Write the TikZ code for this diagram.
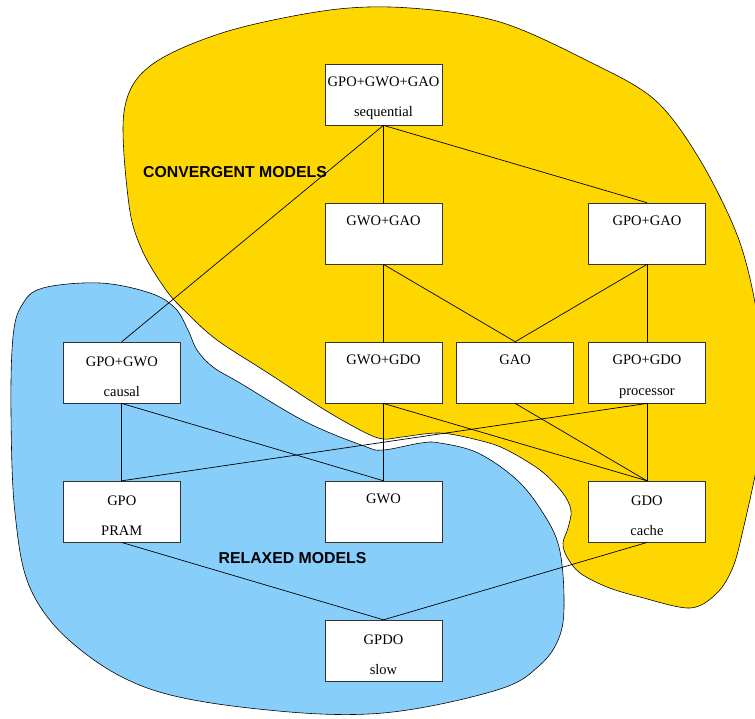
\documentclass[tikz,border=0pt]{standalone}
\usepackage{fontspec}
\setmainfont{Liberation Serif}
\newfontfamily\regionfont{Liberation Sans}
\usetikzlibrary{positioning}
\definecolor{Convergent}{HTML}{FFD700}
\definecolor{Relaxed}{HTML}{87CEFA}

\begin{document}
\begin{tikzpicture}[
  x=0.03cm, y=-0.03cm,
  node distance=2.32cm and 0.42cm,
  every node/.style={align=center},
  model/.style={draw=black!80, fill=white, line width=0.6pt, minimum width=3.51cm, minimum height=1.83cm, inner sep=0pt, font=\fontsize{12.4}{26}\selectfont},
  region/.style={draw=black, line width=0.5pt},
  regionlabel/.style={font=\regionfont\bfseries\fontsize{13.5}{16}\selectfont},
  link/.style={line width=0.6pt, black}
]
\clip (0,0) rectangle (755,718);

% Regions
\draw[region, fill=Convergent] plot[smooth cycle, tension=0.55] coordinates {
  (124,112) (150,66) (225,32) (330,10) (410,8) (500,22) (590,62)
  (655,100) (700,160) (739,240) (758,320) (765,400)
  (758,460) (743,530) (733,567) (717,593) (690,608)
  (640,597) (607,587) (580,573) (567,557) (563,543) (568,528) (571,510)
  (562,492) (540,470) (505,449) (478,440) (440,433) (402,437) (383,439)
  (364,432) (325,410) (268,373) (217,340) (187,313) (166,290) (142,250)
  (129,205)};
\draw[region, fill=Relaxed] plot[smooth cycle, tension=0.6] coordinates {
  (43,288) (100,283) (150,293) (175,308) (188,330) (197,350) (213,367)
  (240,383) (306,422) (364,446) (383,450) (421,443) (440,443) (478,453)
  (517,480) (543,513) (559,547) (564,597) (560,635) (540,665) (497,690)
  (383,713) (268,710) (153,690) (77,647) (31,590) (15,513) (11,413)
  (13,337) (22,305)};

\node[regionlabel] (convlabel) at (235,172) {CONVERGENT MODELS};
\node[regionlabel] (relaxlabel) at (292.5,558) {RELAXED MODELS};

% Top
\node[model] (seq) at (383.5,94.5) {\rule{0pt}{15pt}GPO+GWO+GAO\\sequential};

% Row 2
\node[model, below=of seq] (gwogao) {\rule{0pt}{15pt}GWO+GAO\\\phantom{g}};

% Row 3
\node[model, below=of gwogao] (gwogdo) {\rule{0pt}{15pt}GWO+GDO\\\phantom{g}};
\node[model, right=of gwogdo] (gao) {\rule{0pt}{15pt}GAO\\\phantom{g}};
\node[model, right=of gao] (gpogdo) {\rule{0pt}{15pt}GPO+GDO\\processor};
\node[model, left=4.32cm of gwogdo] (gpogwo) {\rule{0pt}{15pt}GPO+GWO\\causal};
\node[model, above=of gpogdo] (gpogao) {\rule{0pt}{15pt}GPO+GAO\\\phantom{g}};

% Row 4
\node[model, below=of gpogwo] (gpo) {\rule{0pt}{15pt}GPO\\PRAM};
\node[model, below=of gwogdo] (gwo) {\rule{0pt}{15pt}GWO\\\phantom{g}};
\node[model, below=of gpogdo] (gdo) {\rule{0pt}{15pt}GDO\\cache};

% Bottom
\node[model, below=of gwo] (gpdo) {\rule{0pt}{15pt}GPDO\\slow};

% Links
\draw[link] (seq.south) -- (gpogwo.north);
\draw[link] (seq.south) -- (gwogao.north);
\draw[link] (seq.south) -- (gpogao.north);
\draw[link] (gwogao.south) -- (gwogdo.north);
\draw[link] (gwogao.south) -- (gao.north);
\draw[link] (gpogao.south) -- (gao.north);
\draw[link] (gpogao.south) -- (gpogdo.north);
\draw[link] (gpogwo.south) -- (gpo.north);
\draw[link] (gpogwo.south) -- (gwo.north);
\draw[link] (gpogdo.south) -- (gpo.north);
\draw[link] (gwogdo.south) -- (gwo.north);
\draw[link] (gwogdo.south) -- (gdo.north);
\draw[link] (gao.south) -- (gdo.north);
\draw[link] (gpogdo.south) -- (gdo.north);
\draw[link] (gpo.south) -- (gpdo.north);
\draw[link] (gdo.south) -- (gpdo.north);
\end{tikzpicture}
\end{document}
